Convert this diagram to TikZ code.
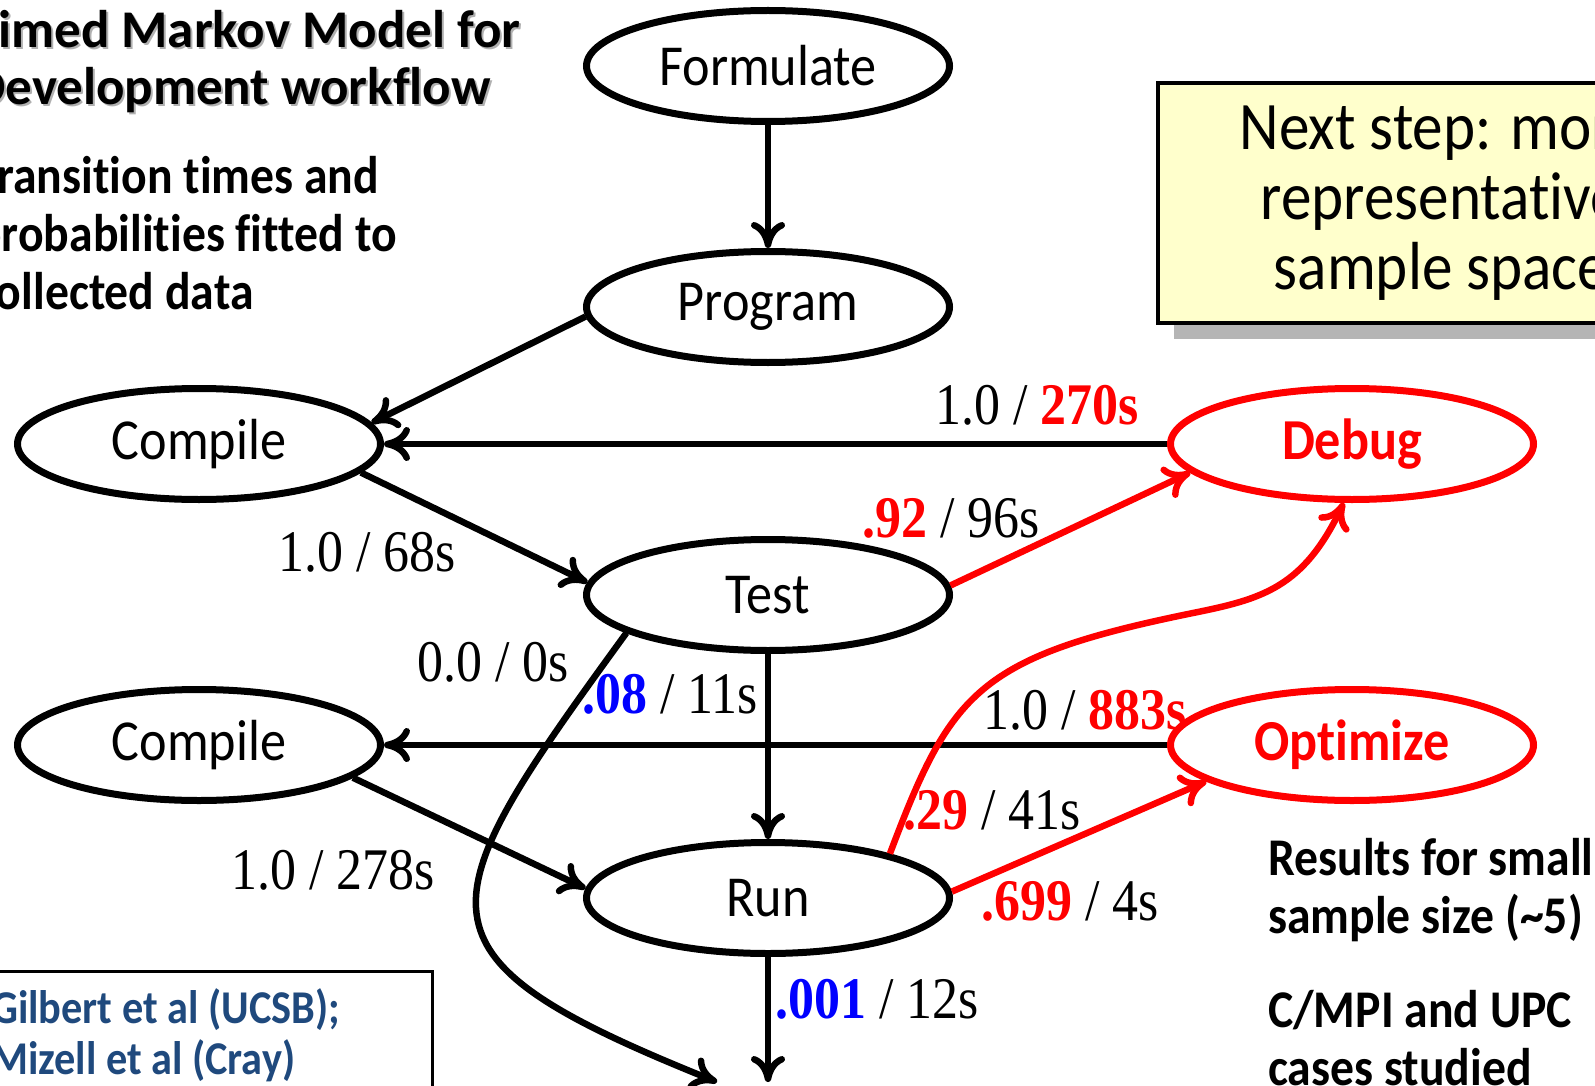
\documentclass[tikz,border=0pt]{standalone}
\usepackage{fontspec}
\setmainfont[FakeStretch=0.88]{Liberation Serif}
\newfontfamily\calibri[FakeStretch=0.9, Ligatures=CommonOff]{Carlito}
\newfontfamily\calibriwide[Ligatures=CommonOff]{Carlito}
\usepackage{tikz}
\usetikzlibrary{arrows.meta, shadows, shapes.geometric}

\definecolor{notebox}{HTML}{FFFFCC}
\definecolor{shadowgray}{HTML}{B5B5B5}
\definecolor{textshadow}{HTML}{B0B0B0}
\definecolor{refblue}{HTML}{1F497D}

\newcommand{\redb}[1]{\textcolor{red}{\textbf{#1}}}
\newcommand{\blueb}[1]{\textcolor{blue}{\textbf{#1}}}

\tikzset{
  state/.style={draw, ellipse, line width=7pt, minimum width=363pt, minimum height=111pt,
    inner sep=0pt, font=\calibri\fontsize{58}{70}\selectfont},
  hot/.style={state, draw=red, text=red, font=\calibri\bfseries\fontsize{58}{70}\selectfont},
  trans/.style={line width=6.5pt, -{To[length=26pt,width=34pt]}},
  prob/.style={inner sep=0pt, font=\fontsize{59}{70}\selectfont},
  heading/.style={inner sep=0pt, align=left, anchor=north west, font=\calibriwide\bfseries\fontsize{53}{57}\selectfont},
  remark/.style={inner sep=0pt, align=left, anchor=north west, font=\calibri\bfseries\fontsize{53}{58}\selectfont},
}

\begin{document}
\begin{tikzpicture}[x=1pt, y=-1pt, node distance=241pt]
  \useasboundingbox (0,0) rectangle (1595,1086);
  \clip (0,0) rectangle (1595,1086);

  % Nodes
  \node [state] (form) at (768,66) {Formulate};
  \node [state, below of=form] (prog) {Program};
  \node [state, below of=prog, node distance=288pt] (test) {Test};
  \node [state, below of=test, node distance=303pt] (run) {Run};
  \node [state] (comp1) at (199,444) {Compile};
  \node [state, below of=comp1, node distance=301pt] (comp2) {Compile};
  \node [hot, right of=comp1, node distance=1153pt] (debug) {Debug};
  \node [hot, right of=comp2, node distance=1153pt] (opt) {Optimize};
  \coordinate (exitA) at (717,1082);
  \coordinate (exitB) at (768,1082);

  % Arrows
  \draw [trans] (form) -- (prog);
  \draw [trans] (prog.183) -- (comp1.7);
  \draw [trans] (comp1.-10) -- (test.176);
  \draw [trans] (debug) -- (comp1);
  \draw [trans, red] (test.3) -- (debug.190);
  \draw [trans] (test) -- (run);
  \draw [trans] (test.195) .. controls (424,911) and (401,955) .. (exitA);
  \draw [trans] (comp2.-12) -- (run.177);
  \draw [trans] (opt) -- (comp2);
  \draw [trans, red] (run.2) -- (opt.194);
  \draw [trans, red] (run.20) .. controls (951,692) and (977,657) .. (1193,613)
    .. controls (1262,599) and (1303,588) .. (debug.262);
  \draw [trans] (run) -- (exitB);

  % Transition labels
  \node [prob] (p68) at (367,552) {1.0 / 68s};
  \node [prob] (p270) at (1037,405) {1.0 / \redb{270s}};
  \node [prob] (p96) at (951,518) {\redb{.92} / 96s};
  \node [prob] (p0) at (493,662) {0.0 / 0s};
  \node [prob] (p11) at (670,694) {\blueb{.08} / 11s};
  \node [prob] (p883) at (1085,710) {1.0 / \redb{883s}};
  \node [prob] (p41) at (992,810) {\redb{.29} / 41s};
  \node [prob] (p278) at (333,870) {1.0 / 278s};
  \node [prob] (p4) at (1070,901) {\redb{.699} / 4s};
  \node [prob] (p12) at (877,999) {\blueb{.001} / 12s};

  % Text
  \node [heading, text=textshadow] (ttlshade) at (-26,12) {Timed Markov Model for\\Development workflow};
  \node [heading] (ttl) at (-28,10) {Timed Markov Model for\\Development workflow};
  \node [remark] (fit) at (-24,156) {Transition times and\\probabilities fitted to\\collected data};
  \node [remark] (small) at (1268,838) {Results for small\\sample size (\textasciitilde5)};
  \node [remark] (cases) at (1268,990) {C/MPI and UPC\\cases studied};

  % Next step box
  \node [draw, line width=3.5pt, fill=notebox, minimum width=566pt, minimum height=240pt,
    drop shadow={shadow xshift=16pt, shadow yshift=-16pt, fill=shadowgray, opacity=1},
    align=center, font=\calibri\fontsize{68}{70}\selectfont] (next) at (1441,203)
    {Next step: more\\representative\\sample space};

  % Reference box
  \draw [line width=3pt] (-20,971) rectangle (432,1120);
  \node [remark, text=refblue, font=\calibri\bfseries\fontsize{47}{51}\selectfont] (refs) at (-9,988)
    {Gilbert et al (UCSB);\\Mizell et al (Cray)};
\end{tikzpicture}
\end{document}
